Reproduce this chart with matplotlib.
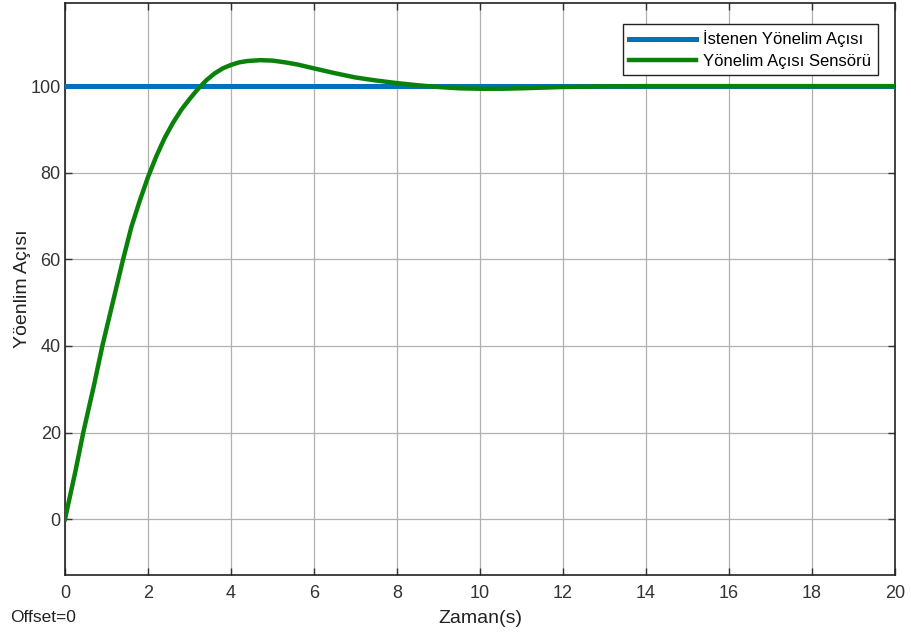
import matplotlib
matplotlib.use("Agg")
import matplotlib.pyplot as plt

# Data
t_ref = [0, 20]
ref = [100, 100]

t_sens = [0, 0.25, 0.44, 0.7, 0.9, 1.0, 1.2, 1.4, 1.6, 1.8, 2.0, 2.2, 2.4, 2.6, 2.8,
          3.0, 3.2, 3.4, 3.6, 3.8, 4.0, 4.2, 4.4, 4.7, 5.0, 5.3, 5.6, 6.0, 6.5, 7.0, 7.5, 8.0,
          8.5, 9.0, 9.5, 10.0, 10.5, 11.0, 12.0, 13.0, 14.0, 16.0, 18.0, 20.0]
sens = [0, 11, 20, 31, 40, 44, 52, 60, 67.5, 73.5, 79, 83.8, 88, 91.5, 94.5,
        97, 99.3, 101.3, 102.9, 104.1, 104.9, 105.5, 105.8, 106.0, 105.9, 105.5, 105.0, 104.1, 103.0, 102.0, 101.3, 100.7,
        100.2, 99.8, 99.5, 99.4, 99.4, 99.5, 99.8, 99.95, 100, 100, 100, 100]

xticks = list(range(0, 21, 2))
yticks = list(range(0, 101, 20))

plt.rcParams['font.family'] = ['Liberation Sans', 'DejaVu Sans']

fig = plt.figure(figsize=(9.11, 6.32), dpi=100)
ax = fig.add_axes([65/911, 57/632, 830/911, 572/632])

ax.plot(t_ref, ref, color='#0072BD', lw=3.6, label='İstenen Yönelim Açısı', zorder=3)
ax.plot(t_sens, sens, color='#0A820A', lw=3.2, label='Yönelim Açısı Sensörü', zorder=4)

ax.set_xlim(0, 20)
ax.set_ylim(-12.9, 119.2)
ax.set_xticks(xticks)
ax.set_yticks(yticks)
ax.grid(True, color='#b0b0b0', lw=0.9)
ax.tick_params(direction='in', length=5, width=1, top=True, right=True,
               labelsize=13, colors='#333333')
ax.tick_params(axis='y', pad=3)
ax.tick_params(axis='x', pad=7)
for s in ax.spines.values():
    s.set_color('#222222')
    s.set_linewidth(1.2)

ax.set_xlabel('Zaman(s)', fontsize=14, color='#222222', labelpad=6)
ax.set_ylabel('Yöenlim Açısı', fontsize=14, color='#222222', labelpad=0)

leg = ax.legend(loc='upper right', bbox_to_anchor=(0.979, 0.963), fontsize=12,
                handlelength=4.0, labelspacing=0.4, borderpad=0.38,
                handletextpad=0.45, borderaxespad=0, fancybox=False, framealpha=1)
leg.get_frame().set_edgecolor('#222222')
leg.get_frame().set_linewidth(1.0)

fig.text(10/911, 1 - 617/632, 'Offset=0', fontsize=12.5, color='#222222',
         ha='left', va='center')

fig.savefig('out.png', dpi=100)
